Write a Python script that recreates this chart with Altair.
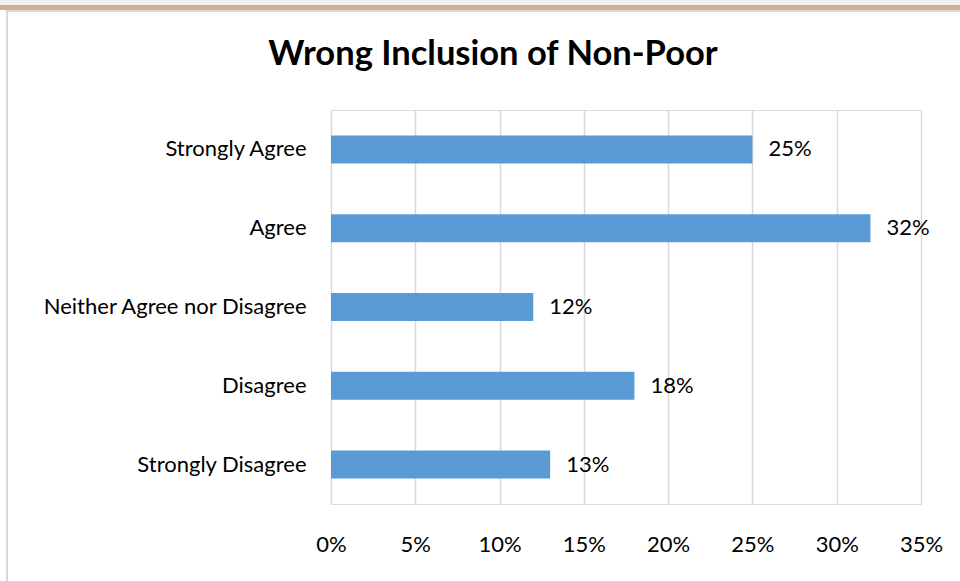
import altair as alt
import pandas as pd

categories = ["Strongly Agree", "Agree", "Neither Agree nor Disagree", "Disagree", "Strongly Disagree"]
values = [0.25, 0.32, 0.12, 0.18, 0.13]
labels = ["25%", "32%", "12%", "18%", "13%"]

df = pd.DataFrame({"cat": categories, "val": values, "lab": labels})

FONT = "Lato"
FS = 22

y_enc = alt.Y("cat:N", sort=categories,
              scale=alt.Scale(paddingInner=0.645, paddingOuter=0.3225),
              axis=alt.Axis(title=None, domain=False, ticks=False, labelPadding=25,
                            labelFontSize=FS, labelFont=FONT, labelColor="#000000",
                            labelLimit=400))
x_enc = alt.X("val:Q", scale=alt.Scale(domain=[0, 0.35], nice=False),
              axis=alt.Axis(title=None, format=".0%", values=[0, 0.05, 0.1, 0.15, 0.2, 0.25, 0.3, 0.35],
                            domain=False, ticks=False, grid=True, gridColor="#d9d9d9", gridWidth=1.5,
                            labelPadding=30, labelFontSize=FS, labelFont=FONT, labelColor="#000000",
                            labelFlush=False))

bars = alt.Chart(df).mark_bar(color="#5B9BD5").encode(x=x_enc, y=y_enc)
text = alt.Chart(df).mark_text(align="left", dx=16, fontSize=FS, font=FONT, color="#000000").encode(
    x="val:Q", y=alt.Y("cat:N", sort=categories), text="lab:N")

# decorative page frame (screenshot border), positioned in pixels relative to the plot origin
frame_df = pd.DataFrame({"k": [0]})
top_gray = alt.Chart(frame_df).mark_rect(color="#f0f0f0").encode(
    x=alt.value(-331), x2=alt.value(629), y=alt.value(-110), y2=alt.value(-105))
top_tan = alt.Chart(frame_df).mark_rect(color="#d8ad8f").encode(
    x=alt.value(-331), x2=alt.value(629), y=alt.value(-105), y2=alt.value(-100))
top_line = alt.Chart(frame_df).mark_rect(color="#d9d9d9").encode(
    x=alt.value(-325), x2=alt.value(629), y=alt.value(-100), y2=alt.value(-98))
left_line = alt.Chart(frame_df).mark_rect(color="#d9d9d9").encode(
    x=alt.value(-325), x2=alt.value(-323), y=alt.value(-100), y2=alt.value(471))

chart = alt.layer(top_gray, top_tan, top_line, left_line, bars, text).properties(
    width=590, height=394,
    title=alt.TitleParams("Wrong Inclusion of Non-Poor", fontSize=34.5, font=FONT, fontWeight="bold",
                          color="#000000", anchor="middle", dx=-133, offset=-72),
    padding={"left": 331, "top": 110, "right": 39, "bottom": 77},
    autosize=alt.AutoSizeParams(type="none"),
).configure_view(stroke=None).configure(background="#ffffff")

chart.save("out.html", embed_options={"renderer": "svg", "actions": False})
